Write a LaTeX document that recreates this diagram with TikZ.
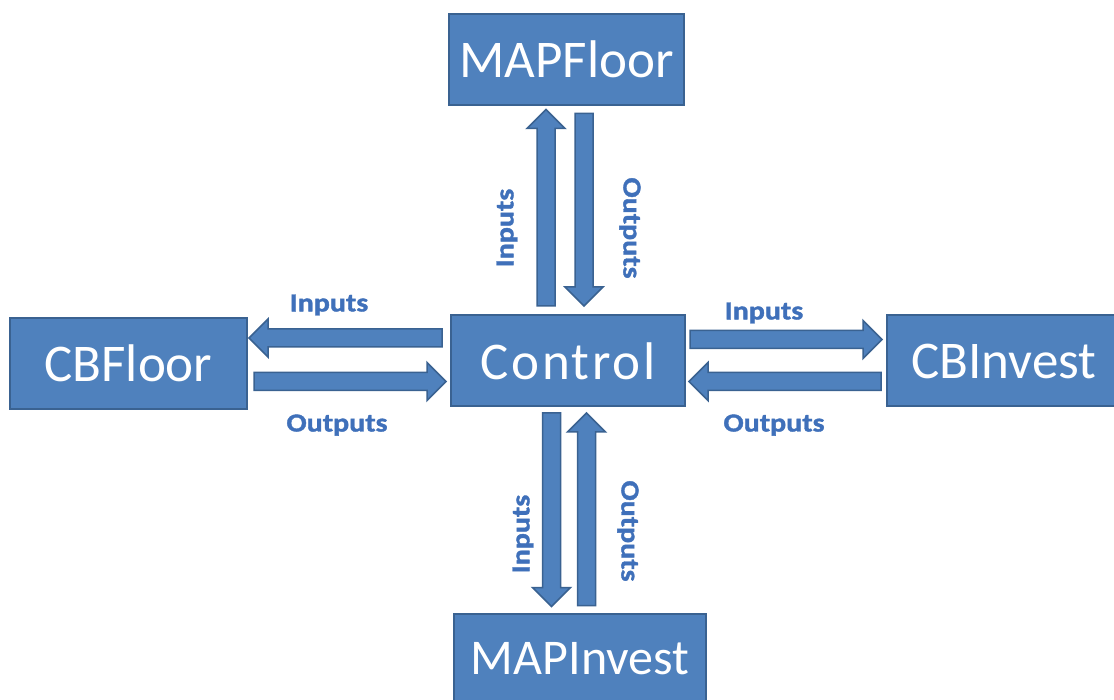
\documentclass[tikz,border=0pt]{standalone}
\usepackage{fontspec}
\setmainfont{Carlito}
\newfontfamily\labfont{Carlito}[BoldFeatures={FakeStretch=1.15,FakeBold=1.5}]
\newfontfamily\widefont{Carlito}[LetterSpace=5]
\usetikzlibrary{calc}
\definecolor{boxfill}{HTML}{4F81BD}
\definecolor{boxline}{HTML}{3A6291}
\definecolor{labelblue}{HTML}{3F70BA}

% Block arrow from coordinate #1 to coordinate #2 (shaft half-width 9, head half-width 19, head length 19)
\newcommand\fatarrow[2]{%
  \coordinate (fa-h) at ($(#2)!19pt!(#1)$);
  \path[blockarrow] ($(#1)!9pt!90:(#2)$) -- ($(fa-h)!9pt!90:(#2)$) -- ($(fa-h)!19pt!90:(#2)$)
    -- (#2) -- ($(fa-h)!19pt!-90:(#2)$) -- ($(fa-h)!9pt!-90:(#2)$) -- ($(#1)!9pt!-90:(#2)$) -- cycle;
}

\begin{document}
\begin{tikzpicture}[x=1pt,y=-1pt,
  unit/.style={draw=boxline, line width=2pt, fill=boxfill, text=white,
    font=\fontsize{53}{58}\selectfont, inner sep=0pt, minimum height=91pt},
  blockarrow/.style={fill=boxfill, draw=boxline, line width=1.5pt, line join=miter},
  lab/.style={text=labelblue, font=\labfont\bfseries\fontsize{26}{30}\selectfont, inner sep=0pt}]
\useasboundingbox (0,0) rectangle (1114,700);
\fill[white] (0,0) rectangle (1114,700);
\clip (0,0) rectangle (1114,700);

% units
\node[unit, minimum width=235pt] (mapf) at (566.5,59.5) {MAPFloor};
\node[unit, minimum width=234pt] (ctl)  at (568,361)    {\widefont Control};
\node[unit, minimum width=237pt] (cbf)  at (128.5,363.5) {CBFloor};
\node[unit, minimum width=234pt] (cbi)  at (1004,361)   {CBInvest};
\node[unit, minimum width=252pt, font=\fontsize{50}{56}\selectfont] (mapi) at (580,659) {MAPInvest};

% arrow end points
\coordinate (a1s) at ($(ctl.north)+(-22,-8.5)$);
\coordinate (a1e) at ($(mapf.south)+(-20.5,3.5)$);
\coordinate (a2s) at ($(mapf.south)+(17.5,7.5)$);
\coordinate (a2e) at ($(ctl.north)+(16,-8.5)$);
\coordinate (a3s) at ($(ctl.west)+(-8,-23)$);
\coordinate (a3e) at ($(cbf.east)+(1,-25.5)$);
\coordinate (a4s) at ($(cbf.east)+(6,18)$);
\coordinate (a4e) at ($(ctl.west)+(-4,20.5)$);
\coordinate (a5s) at ($(ctl.east)+(4,-21.5)$);
\coordinate (a5e) at ($(cbi.west)+(-4,-21.5)$);
\coordinate (a6s) at ($(cbi.west)+(-5,20.5)$);
\coordinate (a6e) at ($(ctl.east)+(3,20.5)$);
\coordinate (a7s) at ($(ctl.south)+(-16.5,5.5)$);
\coordinate (a7e) at ($(mapi.north)+(-28.5,-6)$);
\coordinate (a8s) at ($(mapi.north)+(6.5,-7)$);
\coordinate (a8e) at ($(ctl.south)+(18.5,5.5)$);

% connectors
\fatarrow{a1s}{a1e}
\fatarrow{a2s}{a2e}
\fatarrow{a3s}{a3e}
\fatarrow{a4s}{a4e}
\fatarrow{a5s}{a5e}
\fatarrow{a6s}{a6e}
\fatarrow{a7s}{a7e}
\fatarrow{a8s}{a8e}

% labels
\node[lab, rotate=90]  (l1) at (507,228) {Inputs};
\node[lab, rotate=-90] (l2) at (630,228) {Outputs};
\node[lab] (l3) at (329,305) {Inputs};
\node[lab] (l4) at (337,425) {Outputs};
\node[lab] (l5) at (764,313) {Inputs};
\node[lab] (l6) at (774,425) {Outputs};
\node[lab, rotate=90]  (l7) at (523,534) {Inputs};
\node[lab, rotate=-90] (l8) at (628,531) {Outputs};
\end{tikzpicture}
\end{document}
